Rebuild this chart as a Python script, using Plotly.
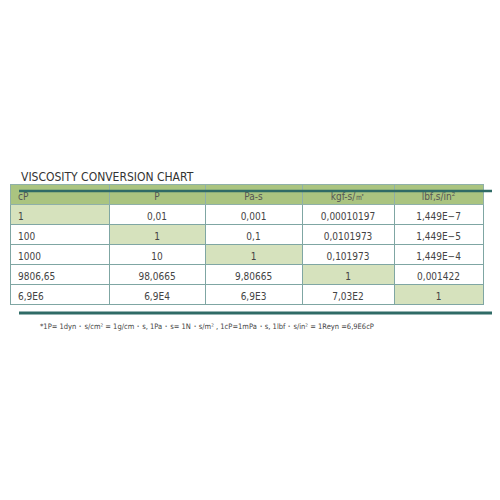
import plotly.graph_objects as go

headers = ["cP", "P", "Pa-s", "kgf-s/㎡", "lbf,s/in²"]
col_cp = ["1", "100", "1000", "9806,65", "6,9E6"]
col_p = ["0,01", "1", "10", "98,0665", "6,9E4"]
col_pas = ["0,001", "0,1", "1", "9,80665", "6,9E3"]
col_kgf = ["0,00010197", "0,0101973", "0,101973", "1", "7,03E2"]
col_lbf = ["1,449E\u22127", "1,449E\u22125", "1,449E\u22124", "0,001422", "1"]
columns = [col_cp, col_p, col_pas, col_kgf, col_lbf]

hi = "#d6e2bd"
fills = [[hi if r == c else "white" for r in range(5)] for c in range(5)]

W, H = 500, 500
top, bot, left, right = 183, 305, 11, 484
dx, dy = 9, 7  # table renders offset inside its domain
fnt = "DejaVu Sans Condensed, Liberation Sans Narrow, Liberation Sans"

fig = go.Figure(go.Table(
    domain=dict(x=[(left - dx) / W, (right - dx) / W], y=[0, 1 - (top - dy) / H]),
    columnwidth=[99, 96, 97, 92, 89],
    header=dict(values=headers, fill_color="#aac480", height=20,
                line=dict(color="#8fb0a8", width=1),
                align=["left", "center", "center", "center", "center"],
                font=dict(family=fnt, size=10, color="#555")),
    cells=dict(values=columns, fill_color=fills, height=20,
               line=dict(color="#7fa6a3", width=1),
               align=["left", "center", "center", "center", "center"],
               font=dict(family=fnt, size=10, color="#444")),
))

fig.add_shape(type="line", xref="paper", yref="paper", x0=left / W, x1=right / W,
              y0=1 - top / H, y1=1 - top / H, line=dict(color="#2f6b66", width=2.5))
fig.add_shape(type="line", xref="paper", yref="paper", x0=left / W, x1=right / W,
              y0=1 - bot / H, y1=1 - bot / H, line=dict(color="#2f6b66", width=3))

fig.add_annotation(text="VISCOSITY CONVERSION CHART", xref="paper", yref="paper",
                   x=left / W, y=1 - 169 / H, xanchor="left", yanchor="middle", showarrow=False,
                   font=dict(family=fnt, size=12, color="#333"))
fig.add_annotation(text="*1P= 1dyn・s/cm² = 1g/cm・s, 1Pa・s= 1N・s/m² , 1cP=1mPa・s, 1lbf・s/in² = 1Reyn =6,9E6cP",
                   xref="paper", yref="paper", x=30 / W, y=1 - 318 / H, xanchor="left",
                   yanchor="middle", showarrow=False,
                   font=dict(family=fnt, size=7.5, color="#444"))

fig.update_layout(width=W, height=H, margin=dict(l=0, r=0, t=0, b=0),
                  paper_bgcolor="white", plot_bgcolor="white")
fig.write_html("out.html")
